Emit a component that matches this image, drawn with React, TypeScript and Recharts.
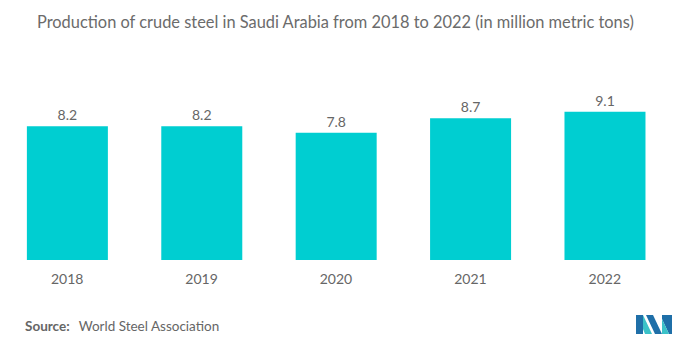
import { Bar, BarChart, LabelList, XAxis, YAxis } from "recharts";

const years = ["2018", "2019", "2020", "2021", "2022"];
const production = [8.2, 8.2, 7.8, 8.7, 9.1];

const chartData = years.map((year, i) => ({ year, value: production[i] }));

const font = "Lato, 'Noto Sans', sans-serif";

export default function App() {
  return (
    <div
      style={{
        position: "absolute",
        left: 0,
        top: 0,
        width: 692,
        height: 347,
        background: "#fff",
        fontFamily: font
      }}
    >
      <div
        style={{
          position: "absolute",
          left: 37,
          top: 12,
          fontSize: 16.4,
          color: "#6b6b6b",
          whiteSpace: "nowrap"
        }}
      >
        Production of crude steel in Saudi Arabia from 2018 to 2022 (in million metric tons)
      </div>
      <BarChart
        width={692}
        height={347}
        data={chartData}
        margin={{ top: 97, right: 20, bottom: 57, left: 0 }}
        barCategoryGap="20%"
      >
        <XAxis
          dataKey="year"
          height={30}
          axisLine={false}
          tickLine={false}
          tickMargin={8}
          tick={{ fill: "#666", fontSize: 14, fontFamily: font }}
        />
        <YAxis hide domain={[0, 10]} />
        <Bar dataKey="value" fill="#00ced1" isAnimationActive={false}>
          <LabelList
            dataKey="value"
            position="top"
            offset={6}
            fill="#666"
            fontSize={14}
            fontFamily={font}
          />
        </Bar>
      </BarChart>
      <div
        style={{
          position: "absolute",
          left: 25,
          top: 318,
          fontSize: 13.5,
          color: "#666",
          whiteSpace: "nowrap"
        }}
      >
        <span style={{ fontWeight: 700 }}>Source:</span>
        <span style={{ marginLeft: 9 }}>World Steel Association</span>
      </div>
      <svg
        style={{ position: "absolute", left: 636, top: 315 }}
        width={36}
        height={19}
        viewBox="0 0 36 19"
      >
        <polygon points="0,0 7,0 7,19 0,19" fill="#1f6fa8" />
        <polygon points="7,0 16,19 9,19 7,14" fill="#3bc2c8" />
        <polygon points="10,0 17,0 26,19 19,19" fill="#1f6fa8" />
        <polygon points="26,0 36,0 36,19 33,19 26,4" fill="#1f6fa8" />
        <polygon points="26,4 33,19 26,19" fill="#3bc2c8" />
      </svg>
    </div>
  );
}
